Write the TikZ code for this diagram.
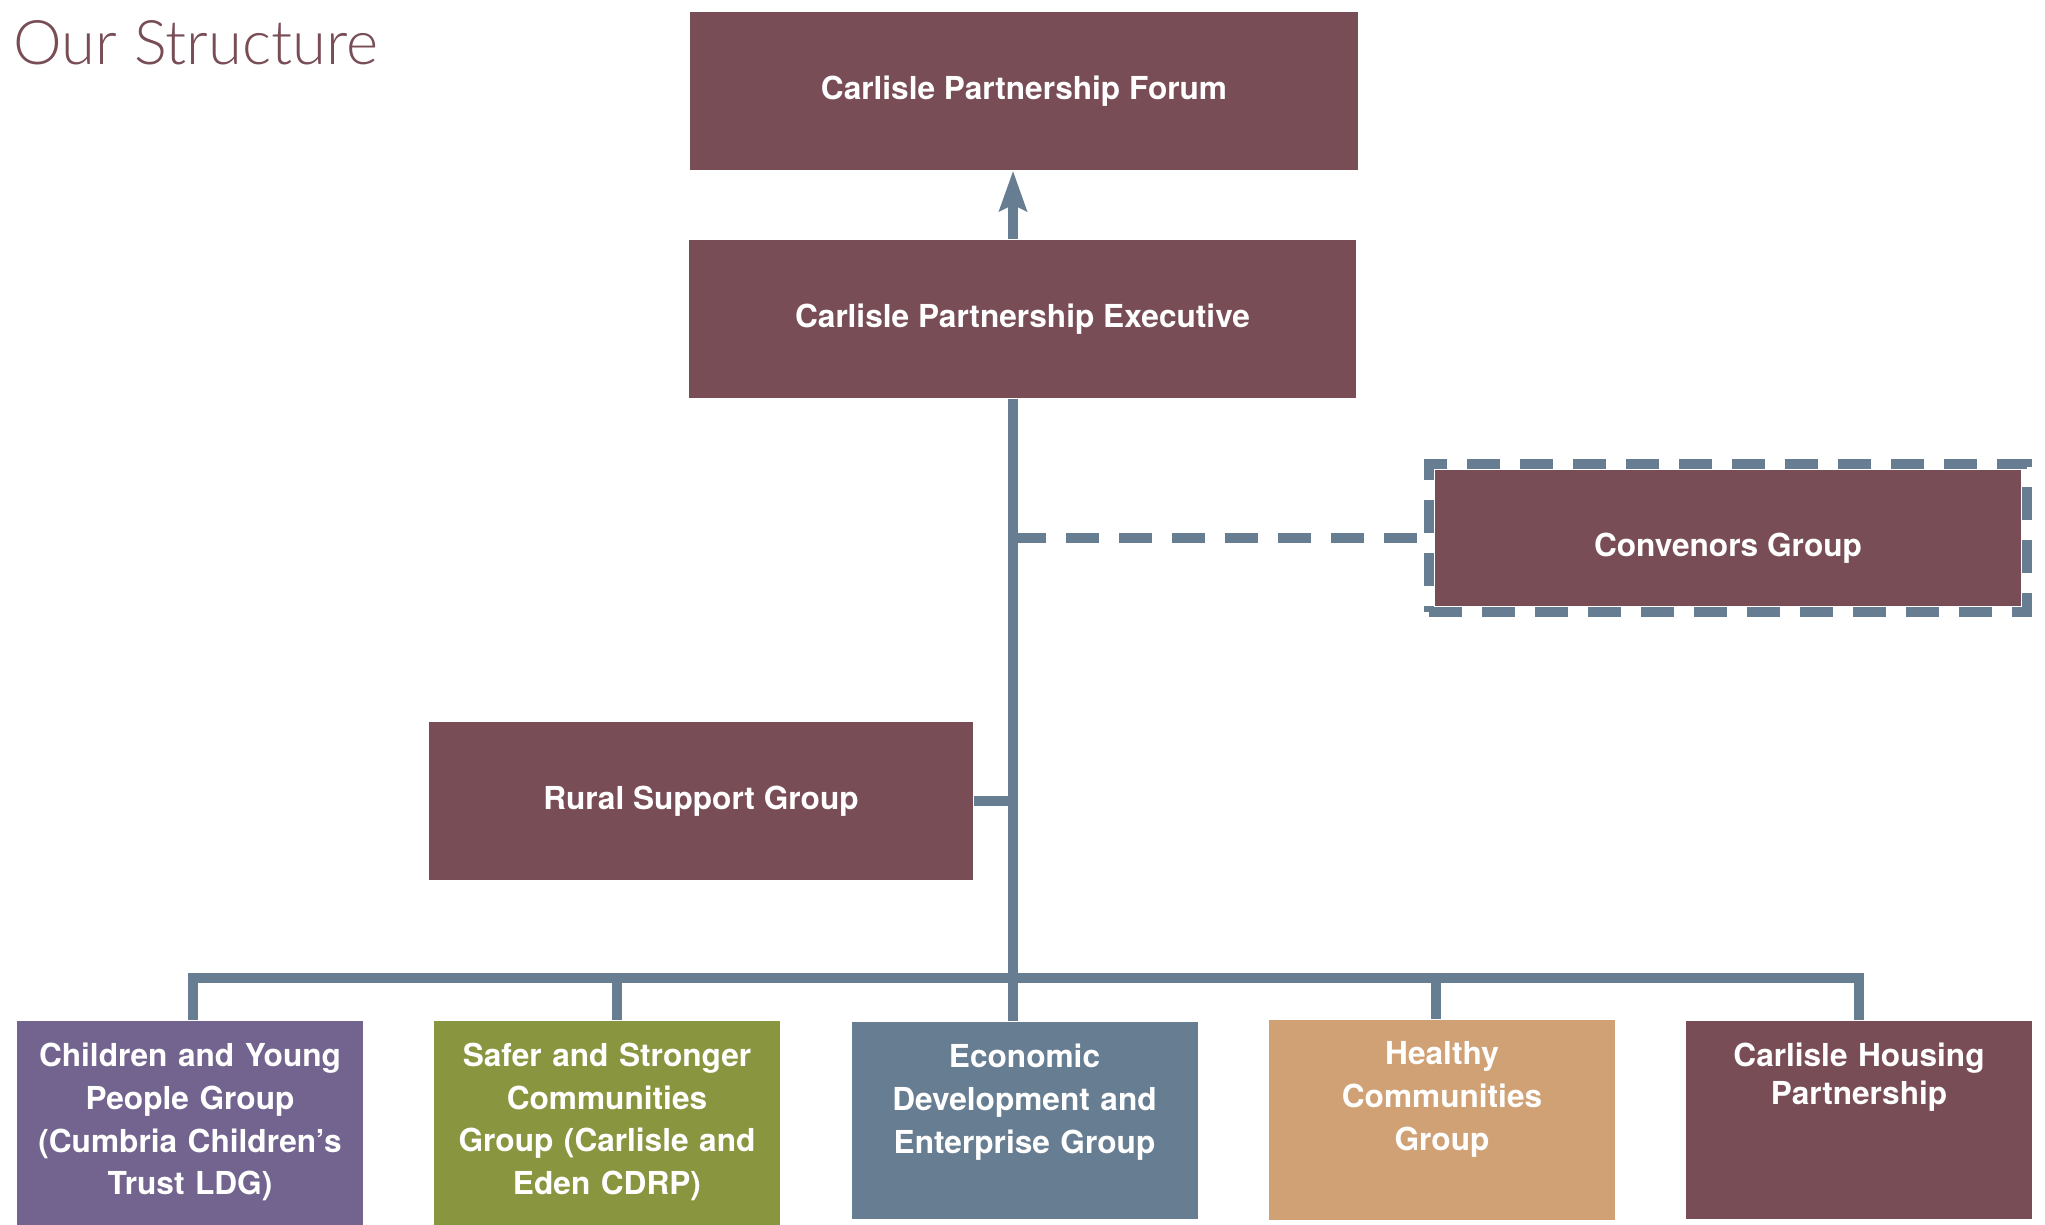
\documentclass[tikz,border=0pt]{standalone}
\usepackage{fontspec}
\setmainfont{TeX Gyre Heros}
\newfontfamily\titlefont{Lato Light}
\usetikzlibrary{arrows.meta,positioning,fit}

\definecolor{cpplum}{RGB}{120,77,86}
\definecolor{cpslate}{RGB}{103,125,146}
\definecolor{cpviolet}{RGB}{114,100,142}
\definecolor{cpolive}{RGB}{138,149,63}
\definecolor{cpsand}{RGB}{207,161,116}

\begin{document}
\begin{tikzpicture}[
    topbox/.style={fill=cpplum, text=white, inner sep=0, align=center,
        font=\bfseries\fontsize{9}{12}\selectfont},
    lowbox/.style={anchor=north, minimum width=3.46cm, inner sep=0},
    lowtext/.style={text=white, inner sep=0, align=center, text width=3.3cm,
        font=\bfseries\fontsize{9}{12.2}\selectfont},
    link/.style={draw=cpslate, line width=0.105cm},
    dashlink/.style={link, dash pattern=on 0.33cm off 0.2cm},
    ring/.style={draw=cpslate, line width=0.1cm, dash pattern=on 0.33cm off 0.2cm,
        inner sep=0.05cm}]
            \useasboundingbox (0,0) rectangle (20.45,-12.24);

            % Heading
            \node[anchor=base west, inner sep=0, text=cpplum,
                font=\titlefont\fontsize{17.5}{20}\selectfont] (title) at (0.13,-0.65) {Our Structure};

            % Forum and executive
            \node[topbox, minimum width=6.68cm, minimum height=1.58cm] (forum) at (10.24,-0.91) {Carlisle Partnership Forum};
            \node[topbox, minimum width=6.67cm, minimum height=1.58cm] (exec) at (10.225,-3.19) {Carlisle Partnership Executive};

            % Convenors, with the dashed ring round it
            \node[topbox, minimum width=5.86cm, minimum height=1.36cm] (conv) at (17.28,-5.38) {\raisebox{-0.1cm}[\height][\depth]{Convenors Group}};
            \node[ring, fit=(conv)] (convring) {};

            % Rural support
            \node[topbox, minimum width=5.44cm, minimum height=1.58cm] (rural) at (7.01,-8.01) {Rural Support Group};

            % Groups along the bottom
            \node[lowbox, fill=cpviolet, minimum height=2.04cm] (kids) at (1.90,-10.20) {};
            \node[lowtext, below=0.22cm of kids.north] (kidstext) {Children and Young\\People Group\\(Cumbria Children’s\\Trust LDG)};

            \node[lowbox, fill=cpolive, minimum height=2.04cm] (safer) at (6.07,-10.20) {};
            \node[lowtext, below=0.22cm of safer.north] (safertext) {Safer and Stronger\\Communities\\Group (Carlisle and\\Eden CDRP)};

            \node[lowbox, fill=cpslate, minimum height=1.97cm] (econ) at (10.245,-10.21) {};
            \node[lowtext, below=0.22cm of econ.north] (econtext) {Economic\\Development and\\Enterprise Group};

            \node[lowbox, fill=cpsand, minimum height=2.0cm] (healthy) at (14.42,-10.19) {};
            \node[lowtext, below=0.22cm of healthy.north] (healthytext) {Healthy\\Communities\\Group};

            \node[lowbox, fill=cpplum, minimum height=1.98cm] (housing) at (18.59,-10.20) {};
            \node[lowtext, below=0.22cm of housing.north, font=\bfseries\fontsize{9}{10.8}\selectfont] (housingtext) {Carlisle Housing\\Partnership};

            % Spine of the chart
            \coordinate (spine) at (10.13,-9.78);
            \draw[link, -{Stealth[length=0.4cm, width=0.27cm, inset=0.06cm]}] (exec.north -| spine) -- (forum.south -| spine);
            \draw[link] (exec.south -| spine) -- (econ.north -| spine);

            % Side links
            \draw[dashlink] (convring.west -| spine) -- (convring.west);
            \draw[link] (rural.east) -- (rural.east -| spine);

            % Bus over the bottom row
            \draw[link] ([xshift=0.03cm]kids.north) |- (spine) -| (housing.north);
            \draw[link] ([xshift=0.1cm]safer.north) -- ([xshift=0.1cm]safer.north |- spine);
            \draw[link] ([xshift=-0.06cm]healthy.north) -- ([xshift=-0.06cm]healthy.north |- spine);

        \end{tikzpicture}
\end{document}
